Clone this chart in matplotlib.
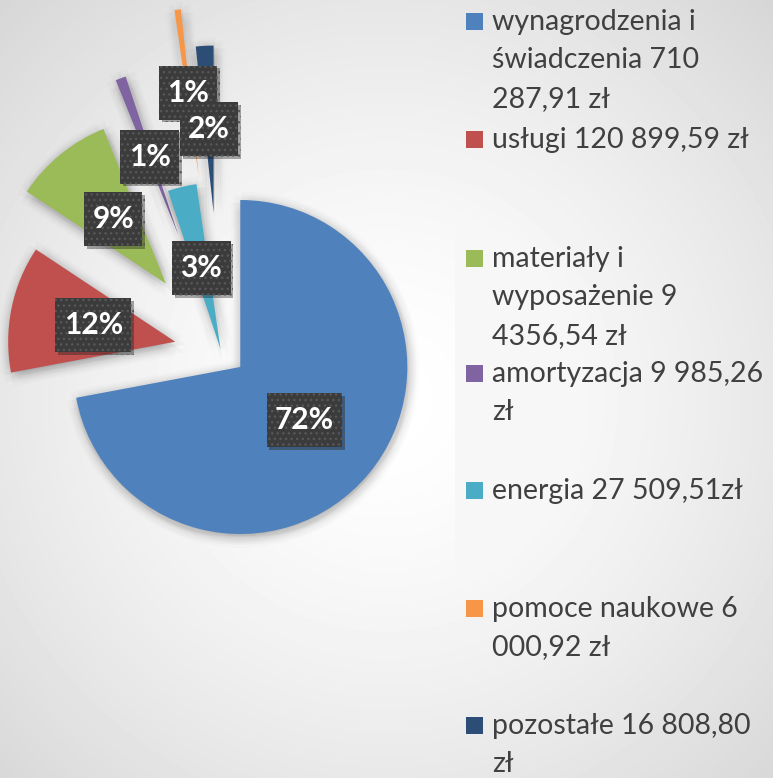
import numpy as np
import matplotlib
matplotlib.use("Agg")
import matplotlib.pyplot as plt
from matplotlib import patheffects as pe
from matplotlib.patches import Rectangle

# data
categories = [
    "wynagrodzenia i\nświadczenia 710\n287,91 zł",
    "usługi 120 899,59 zł",
    "materiały i\nwyposażenie 9\n4356,54 zł",
    "amortyzacja 9 985,26\nzł",
    "energia 27 509,51zł",
    "pomoce naukowe 6\n000,92 zł",
    "pozostałe 16 808,80\nzł",
]
amounts = [710287.91, 120899.59, 94356.54, 9985.26, 27509.51, 6000.92, 16808.80]
pct_labels = ["72%", "12%", "9%", "1%", "3%", "1%", "2%"]

colors = ["#4f81bd", "#c0504d", "#9bbb59", "#8064a2", "#4bacc6", "#f79646", "#2c4d75"]
explode = [0.15, 0.28, 0.52, 0.74, 0.01, 1.06, 0.83]

W, H, DPI = 773, 778, 100
FONT = ["Lato", "DejaVu Sans"]
TEXT_COLOR = "#404040"

fig = plt.figure(figsize=(W / DPI, H / DPI), dpi=DPI)

# soft radial background, legend panel slightly greyer
yy, xx = np.mgrid[0:H, 0:W]
dist = np.hypot(xx - 386, yy - 400) / 548
shade = 255 - 40 * dist ** 1.5
panel = xx >= 455
shade[panel] = np.minimum(shade[panel], 247)
bg = fig.add_axes([0, 0, 1, 1])
bg.imshow(shade, cmap="gray", vmin=0, vmax=255, aspect="auto", interpolation="bilinear")
bg.axis("off")

# pie: centre at (221, 351) px, radius 167 px
R, cx, cy = 167, 221, 351
ax = fig.add_axes([0, 0, 1, 1])
ax.set_facecolor("none")
wedges, texts, autotexts = ax.pie(
    amounts,
    colors=colors,
    explode=explode,
    startangle=90,
    counterclock=False,
    autopct="%1.0f%%",
    pctdistance=0.5,
    radius=1,
    wedgeprops=dict(linewidth=0),
)
ax.set_xlim(-cx / R, (W - cx) / R)
ax.set_ylim(-(H - cy) / R, cy / R)
ax.axis("off")

blur = []
for r in (2, 4, 6, 8):
    for a in np.linspace(0, 2 * np.pi, 8, endpoint=False):
        blur.append(pe.SimplePatchShadow(offset=(1 + r * np.cos(a), -2 + r * np.sin(a)),
                                         shadow_rgbFace="k", alpha=0.012))
for w in wedges:
    w.set_path_effects(blur + [pe.Normal()])

for t, s in zip(autotexts, pct_labels):
    t.set_text(s)
    t.set(color="white", fontsize=21.5, fontweight="bold", family=FONT)
    t.set_bbox(dict(boxstyle="square,pad=0.28", fc="#3b3b3b", ec="#575757", lw=0, hatch="..."))
    box = t.get_bbox_patch()
    box.set_mutation_aspect(1.55)  # taller box than the uniform pad gives
    box.set_path_effects([pe.SimplePatchShadow(offset=(2, -2), alpha=0.35), pe.Normal()])

# legend drawn by hand: Excel leaves uneven gaps between entries
legend_baselines = [30, 148, 267, 382, 499, 617, 734]
line_step = 38.5
for label, color, base in zip(categories, colors, legend_baselines):
    fig.add_artist(Rectangle((466 / W, 1 - base / H), 17 / W, 17 / H,
                             transform=fig.transFigure, fc=color, ec="none"))
    for j, line in enumerate(label.split("\n")):
        fig.text(492 / W, 1 - (base + j * line_step) / H, line, fontsize=20.5,
                 family=FONT, color=TEXT_COLOR, ha="left", va="baseline")

fig.savefig("out.png", dpi=DPI)
